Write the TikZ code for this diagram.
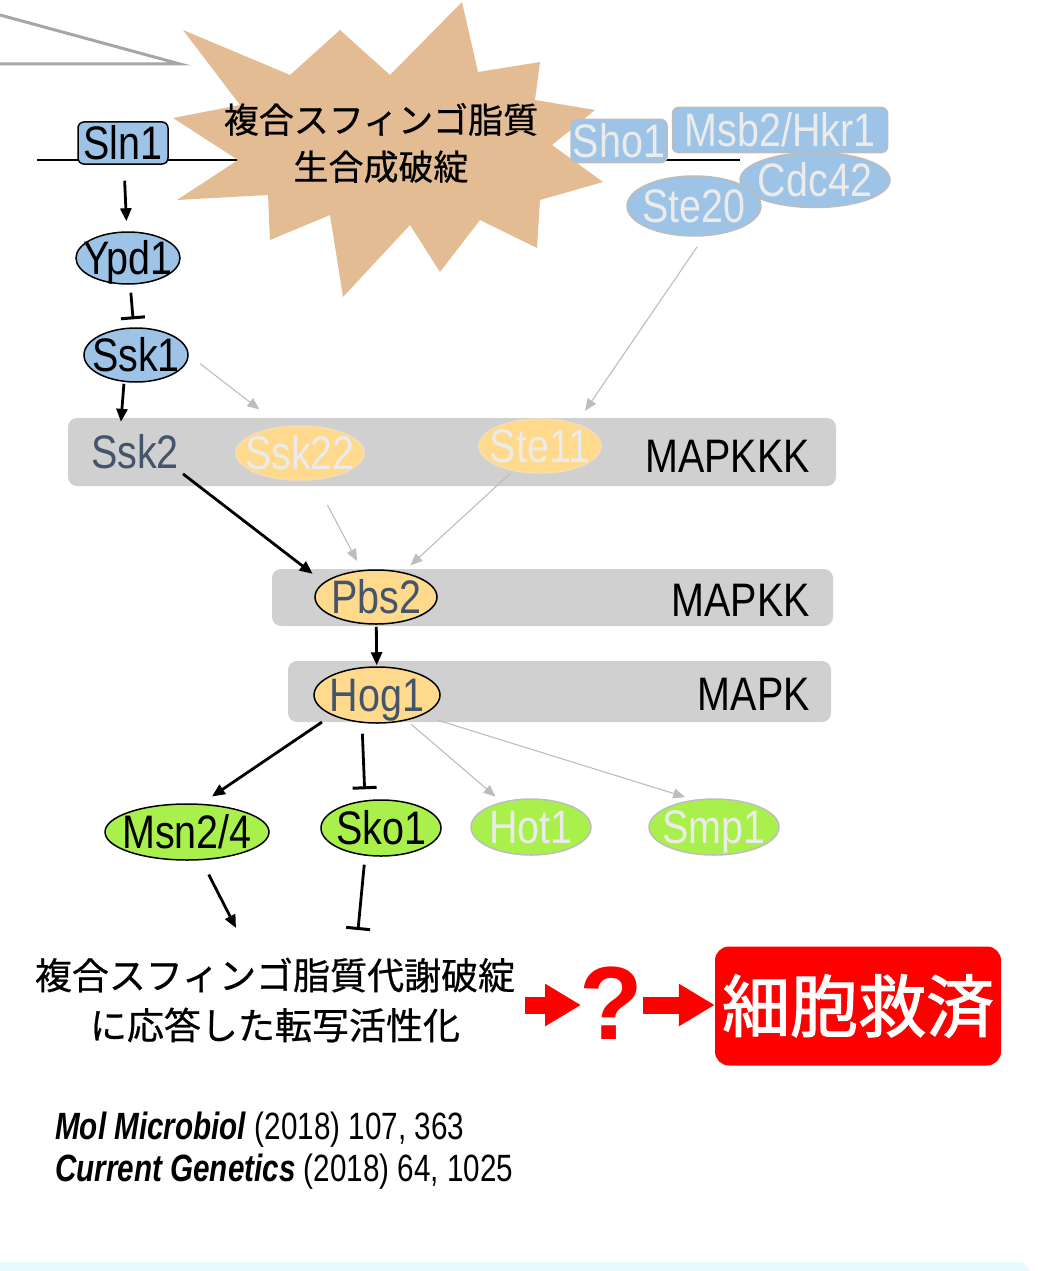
\documentclass[tikz,border=0pt]{standalone}
\usepackage{fontspec}
\setmainfont{Liberation Sans}
\newfontfamily\lab{Liberation Sans}[FakeStretch=0.84]
\newfontfamily\refs{Liberation Sans}[FakeStretch=0.78]
\newfontfamily\cjk{Noto Sans CJK JP}[FakeBold=0.6]
\newfontfamily\cjkb{Noto Sans CJK JP}[FakeBold=1.6]
\usetikzlibrary{shapes.geometric,arrows.meta}
\newcommand\mklab[1]{\raisebox{-0.36em}[0pt][0pt]{\makebox[0pt]{#1}}}
\definecolor{blueF}{HTML}{9DC3E6}
\definecolor{orangeF}{HTML}{FFD98C}
\definecolor{greenF}{HTML}{A9F04C}
\definecolor{boxG}{HTML}{D0D0D0}
\definecolor{slate}{HTML}{44546A}
\definecolor{fadeT}{HTML}{EBEBEB}
\definecolor{fadeB}{HTML}{BDBDBD}
\definecolor{tanF}{HTML}{E4BC94}
\definecolor{calloutG}{HTML}{A6A6A6}
\definecolor{bandC}{HTML}{E6FBFD}
\tikzset{
  lbl/.style={font=\lab\fontsize{47}{50}\selectfont, inner sep=0pt},
  ell/.style={ellipse, draw=black, line width=1.5pt, lbl},
  fadeell/.style={ellipse, draw=fadeB, line width=1.5pt, text=fadeT, lbl},
  bluerect/.style={rectangle, rounded corners=6pt, draw=black, fill=blueF, line width=1.5pt, lbl},
  faderect/.style={rectangle, rounded corners=6pt, draw=fadeB, fill=blueF, line width=1.5pt, text=fadeT, lbl},
  graybox/.style={rectangle, rounded corners=9pt, fill=boxG, inner sep=0pt},
  blk/.style={line width=2.8pt, -{Triangle[length=13pt,width=11pt]}},
  inh/.style={line width=2.8pt, -{Bar[width=24pt,line width=3pt]}},
  gry/.style={line width=1.1pt, draw=fadeB, -{Triangle[length=12pt,width=10pt]}},
  redarr/.style={line width=17pt, draw=red, -{Triangle[length=36pt,width=40pt]}},
}
\begin{document}
\begin{tikzpicture}[x=1pt,y=-1pt]
\useasboundingbox (0,0) rectangle (1037,1271);
% callout lines
\draw[calloutG, line width=3pt] (0,15) -- (180,64) -- (0,64);
% membrane
\draw[line width=2pt] (37,160) -- (740,160);
% starburst
\fill[tanF] (462,2) -- (478,72) -- (540,62) -- (535,100) -- (595,110) -- (552,145)
  -- (603,182) -- (540,200) -- (537,248) -- (480,220) -- (440,272) -- (410,225)
  -- (343,297) -- (330,215) -- (270,240) -- (268,195) -- (177,200) -- (238,160)
  -- (173,118) -- (240,105) -- (183,30) -- (290,75) -- (340,30) -- (390,75) -- cycle;
\node[font=\cjk\fontsize{35}{47}\selectfont, align=center, inner sep=0pt] (burst) at (381,143)
  {複合スフィンゴ脂質\\生合成破綻};
% gray boxes
\node[graybox, minimum width=768pt, minimum height=68pt] (g3) at (452,452) {};
\node[graybox, minimum width=561pt, minimum height=57pt] (g2) at (552.5,597.5) {};
\node[graybox, minimum width=543pt, minimum height=61pt] (g1) at (559.5,691.5) {};
\node[lbl, anchor=east] (l3) at (810,456) {MAPKKK};
\node[lbl, anchor=east] (l2) at (810,600) {MAPKK};
\node[lbl, anchor=east] (l1) at (810,694) {MAPK};
% upstream nodes
\node[bluerect, minimum width=90pt, minimum height=42pt] (sln1) at (123,143) {\mklab{Sln1}};
\node[ell, fill=blueF, minimum width=104pt, minimum height=52pt] (ypd1) at (128,258) {\mklab{Ypd1}};
\node[ell, fill=blueF, minimum width=104pt, minimum height=54pt] (ssk1) at (136,355) {\mklab{Ssk1}};
\node[faderect, minimum width=96pt, minimum height=43pt] (sho1) at (619,141) {\mklab{Sho1}};
\node[faderect, minimum width=215pt, minimum height=45pt] (msb2) at (780,130) {\mklab{Msb2/Hkr1}};
\node[fadeell, fill=blueF, minimum width=150pt, minimum height=55pt] (cdc42) at (815,180) {\mklab{Cdc42}};
\node[fadeell, fill=blueF, minimum width=134pt, minimum height=60pt] (ste20) at (694,206) {\mklab{Ste20}};
% MAPKKK
\node[lbl, text=slate, minimum width=86pt, minimum height=36pt] (ssk2) at (135,452) {\mklab{Ssk2}};
\node[fadeell, fill=orangeF, draw=orangeF!80!brown!60, minimum width=128pt, minimum height=54pt] (ssk22) at (300,453) {\mklab{Ssk22}};
\node[fadeell, fill=orangeF, draw=orangeF!80!brown!60, minimum width=122pt, minimum height=54pt] (ste11) at (540,446) {\mklab{Ste11}};
\node[ell, fill=orangeF, text=slate, minimum width=122pt, minimum height=54pt] (pbs2) at (376,597) {\mklab{Pbs2}};
\node[ell, fill=orangeF, text=slate, minimum width=126pt, minimum height=56pt] (hog1) at (377,695) {\mklab{Hog1}};
% targets
\node[ell, fill=greenF, minimum width=164pt, minimum height=56pt] (msn) at (187,832) {\mklab{Msn2/4}};
\node[ell, fill=greenF, minimum width=120pt, minimum height=56pt] (sko1) at (381,828) {\mklab{Sko1}};
\node[fadeell, fill=greenF, minimum width=120pt, minimum height=56pt] (hot1) at (531,827) {\mklab{Hot1}};
\node[fadeell, fill=greenF, minimum width=130pt, minimum height=56pt] (smp1) at (714,827) {\mklab{Smp1}};
\coordinate (msnEnd) at (236,928);
\coordinate (skoEnd) at (358,930);
% connectors
\draw[blk, shorten <=16pt, shorten >=10pt] (sln1) -- (ypd1);
\draw[inh, shorten <=8pt, shorten >=8pt] (ypd1) -- (ssk1);
\draw[blk, shorten <=1pt, shorten >=12pt] ([xshift=-12pt]ssk1.south) -- ([xshift=-15pt]ssk2.north);
\draw[gry, shorten <=14pt, shorten >=26pt] (ssk1.east) -- ([xshift=-20pt]ssk22.north);
\draw[gry, shorten <=12pt, shorten >=9pt] ([xshift=10pt]ste20.south) -- ([xshift=40pt]ste11.north);
\draw[blk, shorten <=6pt, shorten >=2pt] (ssk2.south east) -- ([yshift=22pt]pbs2.west);
\draw[gry, shorten <=28pt, shorten >=10pt] (ssk22) -- (pbs2);
\draw[gry, shorten <=3pt, shorten >=10pt] (ste11) -- (pbs2);
\draw[blk, shorten <=2pt, shorten >=1pt] (pbs2) -- (hog1);
\draw[blk, shorten <=12pt, shorten >=12pt] (hog1.south west) -- ([xshift=15pt]msn.north);
\draw[inh, shorten <=10pt, shorten >=10pt] ([xshift=-15pt]hog1.south) -- ([xshift=-16pt]sko1.north);
\draw[gry, shorten <=6pt, shorten >=8pt] (hog1) -- (hot1);
\draw[gry, shorten <=16pt, shorten >=4pt] (hog1.south east) -- ([xshift=-25pt]smp1.north);
\draw[blk, shorten <=16pt] (msn) -- (msnEnd);
\draw[inh, shorten <=8pt] ([xshift=-16pt]sko1.south) -- (skoEnd);
% bottom
\node[font=\cjk\fontsize{37}{50}\selectfont, align=center, inner sep=0pt] (resp) at (275,1000)
  {複合スフィンゴ脂質代謝破綻\\に応答した転写活性化};
\node[font=\bfseries\fontsize{104}{108}\selectfont, text=red, inner sep=0pt] (q) at (611,1003) {?};
\node[rectangle, rounded corners=14pt, fill=red, minimum width=286pt, minimum height=119pt,
  font=\cjkb\fontsize{68}{72}\selectfont, text=white, inner sep=0pt] (rescue) at (858,1006) {細胞救済};
\draw[redarr, shorten <=10pt, shorten >=-2pt] (resp.east |- 0,1005) -- (q.west |- 0,1005);
\draw[redarr] (q.east |- 0,1005) -- (rescue.west |- 0,1005);
\node[font=\refs\fontsize{38}{42}\selectfont, align=left, anchor=west, inner sep=0pt] (refs) at (55,1151)
  {\textbf{\textit{Mol Microbiol}} (2018) 107, 363\\\textbf{\textit{Current Genetics}} (2018) 64, 1025};
\fill[bandC] (0,1262) -- (1022,1262) -- (1031,1271) -- (0,1271) -- cycle;
\end{tikzpicture}
\end{document}
